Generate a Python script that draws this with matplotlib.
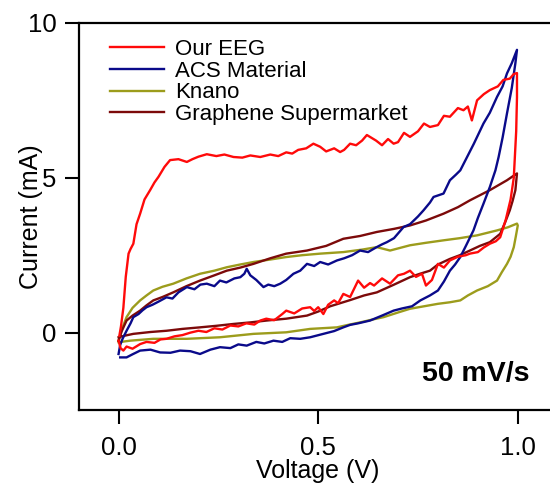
import numpy as np
import matplotlib
matplotlib.use("Agg")
import matplotlib.pyplot as plt

plt.rcParams['font.family'] = ['Liberation Sans', 'DejaVu Sans']

# Cyclic voltammograms at 50 mV/s, voltage in V, current in mA
# each loop: forward branch (fwd) then return branch (rev)
red_fwd_v = [0.0, 0.005, 0.012, 0.02, 0.035, 0.054, 0.07, 0.09, 0.105, 0.12,
             0.14, 0.16, 0.18, 0.2, 0.22, 0.24, 0.26, 0.28, 0.3, 0.32,
             0.34, 0.355, 0.37, 0.39, 0.41, 0.42, 0.44, 0.46, 0.48, 0.49,
             0.5, 0.513, 0.525, 0.54, 0.55, 0.563, 0.58, 0.6, 0.615, 0.63,
             0.64, 0.66, 0.68, 0.7, 0.715, 0.73, 0.745, 0.76, 0.77, 0.785,
             0.8, 0.815, 0.83, 0.85, 0.87, 0.88, 0.9, 0.915, 0.93, 0.945,
             0.956, 0.97, 0.982, 0.99, 0.996, 0.998]
red_fwd_i = [-0.26, -0.5, -0.58, -0.45, -0.52, -0.37, -0.3, -0.33, -0.22, -0.2,
             -0.12, -0.08, 0.0, 0.06, 0.02, 0.14, 0.1, 0.23, 0.2, 0.3,
             0.26, 0.39, 0.45, 0.4, 0.6, 0.71, 0.62, 0.78, 0.82, 0.7,
             0.82, 0.6, 0.9, 1.04, 0.95, 1.25, 1.15, 1.68, 1.45, 1.6,
             1.52, 1.75, 1.58, 1.85, 1.9, 2.0, 1.8, 1.9, 1.52, 1.7,
             2.22, 2.1, 2.33, 2.45, 2.5, 2.55, 2.6, 2.75, 2.87, 2.95,
             3.08, 3.65, 4.3, 5.0, 6.5, 7.6]
red_rev_v = [0.998, 0.99, 0.98, 0.964, 0.95, 0.93, 0.915, 0.898, 0.885, 0.875,
             0.864, 0.85, 0.83, 0.815, 0.8, 0.78, 0.765, 0.75, 0.73, 0.715,
             0.7, 0.689, 0.675, 0.66, 0.645, 0.622, 0.61, 0.595, 0.58, 0.565,
             0.555, 0.54, 0.52, 0.505, 0.488, 0.47, 0.45, 0.435, 0.42, 0.4,
             0.38, 0.355, 0.33, 0.31, 0.288, 0.265, 0.245, 0.221, 0.2, 0.185,
             0.171, 0.15, 0.129, 0.115, 0.1, 0.09, 0.079, 0.065, 0.054, 0.045,
             0.037, 0.03, 0.025, 0.018, 0.012, 0.006, 0.002]
red_rev_i = [8.38, 8.35, 8.2, 8.16, 7.95, 7.83, 7.7, 7.5, 6.85, 7.3,
             7.18, 7.25, 6.97, 7.0, 6.7, 6.64, 6.75, 6.5, 6.32, 6.45,
             6.15, 6.1, 6.25, 6.05, 6.2, 6.38, 6.2, 6.05, 6.1, 5.9,
             5.83, 5.95, 5.85, 6.0, 6.1, 5.95, 5.9, 5.78, 5.82, 5.7,
             5.75, 5.67, 5.72, 5.65, 5.67, 5.75, 5.7, 5.76, 5.68, 5.6,
             5.51, 5.6, 5.57, 5.35, 5.03, 4.85, 4.6, 4.3, 3.84, 3.5,
             2.87, 2.7, 2.55, 1.8, 0.8, 0.2, -0.1]

blue_fwd_v = [0.0, 0.004, 0.01, 0.02, 0.03, 0.037, 0.05, 0.06, 0.07, 0.085,
              0.1, 0.12, 0.135, 0.15, 0.171, 0.19, 0.205, 0.221, 0.24, 0.254,
              0.27, 0.29, 0.305, 0.315, 0.321, 0.33, 0.345, 0.363, 0.375, 0.39,
              0.405, 0.42, 0.438, 0.455, 0.472, 0.49, 0.505, 0.525, 0.547, 0.565,
              0.585, 0.605, 0.625, 0.645, 0.66, 0.672, 0.69, 0.714, 0.73, 0.75,
              0.764, 0.78, 0.789, 0.814, 0.83, 0.845, 0.856, 0.873, 0.89, 0.914,
              0.93, 0.948, 0.962, 0.973, 0.985, 0.998]
blue_fwd_i = [-0.69, -0.4, -0.2, 0.06, 0.3, 0.5, 0.6, 0.72, 0.82, 0.9,
              1.0, 1.14, 1.1, 1.3, 1.47, 1.4, 1.55, 1.58, 1.5, 1.68,
              1.62, 1.75, 1.79, 1.9, 2.06, 1.85, 1.7, 1.47, 1.55, 1.5,
              1.58, 1.7, 1.9, 2.0, 2.22, 2.15, 2.28, 2.2, 2.33, 2.4,
              2.5, 2.65, 2.6, 2.75, 2.85, 2.92, 3.05, 3.41, 3.5, 3.75,
              3.95, 4.2, 4.38, 4.49, 4.92, 5.1, 5.24, 5.67, 6.1, 6.75,
              7.1, 7.61, 7.95, 8.37, 8.7, 9.13]
blue_rev_v = [0.994, 0.985, 0.973, 0.962, 0.952, 0.944, 0.93, 0.914, 0.9, 0.889,
              0.87, 0.856, 0.843, 0.83, 0.815, 0.8, 0.78, 0.756, 0.735, 0.71,
              0.689, 0.66, 0.63, 0.6, 0.58, 0.563, 0.54, 0.513, 0.495, 0.48,
              0.455, 0.43, 0.41, 0.388, 0.365, 0.345, 0.321, 0.3, 0.28, 0.254,
              0.23, 0.204, 0.18, 0.154, 0.13, 0.104, 0.08, 0.054, 0.035, 0.02,
              0.004]
blue_rev_i = [8.7, 7.9, 7.08, 6.3, 5.67, 5.24, 4.7, 4.16, 3.7, 3.3,
              2.8, 2.44, 2.2, 2.0, 1.65, 1.36, 1.2, 1.04, 0.85, 0.78,
              0.71, 0.55, 0.39, 0.3, 0.25, 0.17, 0.05, -0.04, -0.1, -0.15,
              -0.2, -0.18, -0.3, -0.26, -0.35, -0.3, -0.42, -0.38, -0.5, -0.47,
              -0.55, -0.69, -0.6, -0.58, -0.65, -0.64, -0.55, -0.58, -0.7, -0.8,
              -0.8]

olive_fwd_v = [0.0, 0.008, 0.02, 0.035, 0.054, 0.07, 0.087, 0.11, 0.137, 0.17,
               0.204, 0.24, 0.271, 0.305, 0.338, 0.38, 0.42, 0.46, 0.505, 0.563,
               0.61, 0.647, 0.68, 0.73, 0.77, 0.814, 0.855, 0.898, 0.948, 0.975,
               0.998]
olive_fwd_i = [-0.26, 0.1, 0.5, 0.8, 1.04, 1.2, 1.36, 1.48, 1.58, 1.75,
               1.9, 2.0, 2.11, 2.2, 2.28, 2.36, 2.44, 2.5, 2.55, 2.6,
               2.68, 2.76, 2.65, 2.82, 2.9, 2.98, 3.05, 3.14, 3.3, 3.4,
               3.52]
olive_rev_v = [1.0, 0.995, 0.99, 0.982, 0.973, 0.96, 0.948, 0.925, 0.898, 0.875,
               0.856, 0.83, 0.8, 0.765, 0.73, 0.7, 0.664, 0.635, 0.605, 0.575,
               0.547, 0.48, 0.42, 0.338, 0.254, 0.171, 0.087, 0.029, 0.0]
olive_rev_i = [3.46, 3.1, 2.76, 2.45, 2.22, 1.95, 1.68, 1.5, 1.36, 1.2,
               1.04, 0.98, 0.93, 0.85, 0.77, 0.65, 0.5, 0.42, 0.33, 0.25,
               0.17, 0.12, 0.01, -0.04, -0.15, -0.2, -0.2, -0.26, -0.31]

brown_fwd_v = [0.0, 0.008, 0.02, 0.035, 0.054, 0.07, 0.087, 0.11, 0.137, 0.17,
               0.204, 0.24, 0.271, 0.305, 0.338, 0.38, 0.42, 0.472, 0.52, 0.563,
               0.605, 0.647, 0.69, 0.73, 0.77, 0.814, 0.85, 0.88, 0.93, 0.973,
               0.998]
brown_fwd_i = [-0.26, 0.05, 0.39, 0.55, 0.71, 0.88, 1.04, 1.15, 1.3, 1.5,
               1.68, 1.85, 2.0, 2.1, 2.22, 2.4, 2.55, 2.65, 2.8, 3.03,
               3.12, 3.25, 3.35, 3.46, 3.62, 3.84, 4.05, 4.27, 4.6, 4.92,
               5.14]
brown_rev_v = [0.994, 0.987, 0.98, 0.968, 0.956, 0.93, 0.905, 0.88, 0.855, 0.83,
               0.8, 0.78, 0.755, 0.73, 0.69, 0.647, 0.615, 0.58, 0.53, 0.5,
               0.472, 0.42, 0.371, 0.33, 0.288, 0.245, 0.204, 0.16, 0.12, 0.08,
               0.037, 0.015, 0.0]
brown_rev_i = [4.6, 4.25, 3.95, 3.55, 3.19, 2.92, 2.8, 2.65, 2.5, 2.38,
               2.2, 2.0, 1.9, 1.79, 1.55, 1.3, 1.2, 1.05, 0.85, 0.68,
               0.55, 0.45, 0.39, 0.33, 0.28, 0.22, 0.17, 0.12, 0.06, 0.02,
               -0.04, -0.1, -0.15]

labels = ['Our EEG', 'ACS Material', 'Knano', 'Graphene Supermarket']
colors = ['#ff0a0a', '#0a0a8a', '#9c9c1c', '#7c0a0a']

fig = plt.figure(figsize=(5.5, 4.87), dpi=100)
ax = fig.add_axes([0.143, 0.158, 0.871, 0.795])

curves = [
    (red_fwd_v + red_rev_v, red_fwd_i + red_rev_i),
    (blue_fwd_v + blue_rev_v, blue_fwd_i + blue_rev_i),
    (olive_fwd_v + olive_rev_v, olive_fwd_i + olive_rev_i),
    (brown_fwd_v + brown_rev_v, brown_fwd_i + brown_rev_i),
]
zorders = [5, 4, 2, 3]
handles = []
for (v, i), lab, col, z in zip(curves, labels, colors, zorders):
    h, = ax.plot(np.array(v), np.array(i), color=col, lw=1.7, label=lab, zorder=z)
    handles.append(h)

ax.set_xlim(-0.1, 1.1)
ax.set_ylim(-2.5, 10)
ax.set_xticks([0.0, 0.5, 1.0])
ax.set_xticklabels(['0.0', '0.5', '1.0'])
ax.set_yticks([0, 5, 10])
for s in ax.spines.values():
    s.set_linewidth(1.6)
ax.tick_params(direction='out', length=10, width=1.5, labelsize=18.5, pad=6)
ax.tick_params(axis='x', pad=9)
ax.set_xlabel('Voltage (V)', fontsize=18, labelpad=-1)
ax.set_ylabel('Current (mA)', fontsize=18, labelpad=-11)

ax.legend(handles=handles, loc='upper left', bbox_to_anchor=(0.066, 0.958),
          frameon=False, fontsize=16, handlelength=2.4, handletextpad=0.5,
          labelspacing=0.03, borderpad=0, borderaxespad=0)

ax.text(1.03, -1.55, '50 mV/s', fontsize=20.5, fontweight='bold',
        ha='right', va='baseline')

fig.savefig('out.png', dpi=100)
